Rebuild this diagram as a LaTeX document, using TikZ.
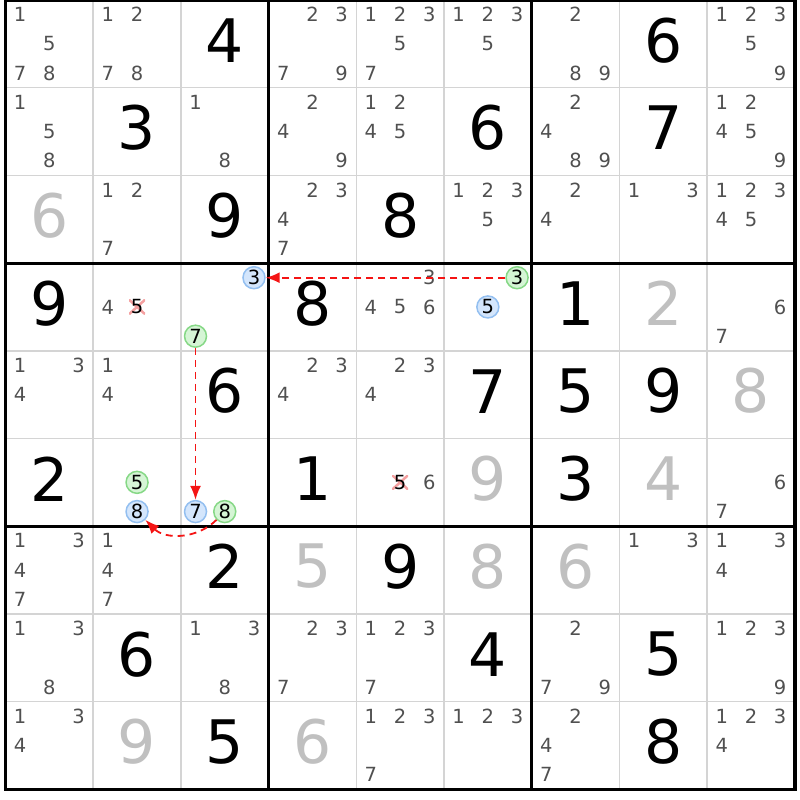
\documentclass[tikz,border=0pt]{standalone}
\usepackage{fontspec}
\setmainfont{DejaVu Sans}
\usetikzlibrary{arrows.meta, calc}
\definecolor{G}{HTML}{D4D4D4}
\definecolor{C}{HTML}{505050}
\definecolor{S}{HTML}{C0C0C0}
\definecolor{B}{HTML}{93BFF0}
\definecolor{BF}{HTML}{D4E6FC}
\definecolor{V}{HTML}{86D886}
\definecolor{VF}{HTML}{D5F5D5}
\definecolor{R}{HTML}{F41414}
\definecolor{X}{HTML}{F4A0A0}

\newcommand\cellsize{87.7}
% candidate #3 of the cell in row #1, column #2
\newcommand\candat[4]{%
  \pgfmathsetmacro\cx{5.5+(#2-1)*\cellsize+(mod(#3-1,3)+0.5)*\cellsize/3}
  \pgfmathsetmacro\cy{800-(#1-1)*\cellsize-(floor((#3-1)/3)+0.5)*\cellsize/3}
  \node[#4] (k#1#2#3) at (\cx,\cy) {#3};}

\begin{document}
\begin{tikzpicture}[x=1pt, y=1pt, >={Latex[length=14pt,width=11pt]},
    cand/.style = {inner sep=0pt, text=C,
      font=\fontsize{19.5}{19.5}\selectfont},
    given/.style = {inner sep=0pt, text=black,
      font=\fontsize{60}{60}\selectfont},
    solved/.style = {given, text=S},
    blue mark/.style = {cand, text=black, circle, draw=B, fill=BF,
      line width=1.5pt, minimum size=22pt},
    green mark/.style = {blue mark, draw=V, fill=VF},
    crossed/.style = {cand, text=black, minimum width=16pt,
      minimum height=14pt, path picture={
        \draw[X, line width=2.5pt]
        (path picture bounding box.south west) --
        (path picture bounding box.north east)
        (path picture bounding box.north west) --
        (path picture bounding box.south east);}},
    implies/.style = {->, draw=R, line width=1.8pt,
      dash pattern=on 7pt off 5pt}]
  \useasboundingbox (0,0) rectangle (800,800);

  % grid
  \foreach \i in {1,2,4,5,7,8} {
    \draw[G, line width=1.5pt] ({5.5+\i*\cellsize},800) -- ++(0,-789.3);
    \draw[G, line width=1.5pt] (5.5,{800-\i*\cellsize}) -- ++(789.3,0);
  }
  \foreach \i in {3,6} {
    \draw[line width=3pt] ({5.5+\i*\cellsize},800) -- ++(0,-789.3);
    \draw[line width=3pt] (5.5,{800-\i*\cellsize}) -- ++(789.3,0);
  }
  \draw[line width=3.5pt] (5.5,10.7) rectangle (794.8,800);

  % givens and solved cells
  \foreach \r/\c/\d in {1/3/4, 1/8/6, 2/2/3, 2/6/6, 2/8/7, 3/3/9, 3/5/8,
      4/1/9, 4/4/8, 4/7/1, 5/3/6, 5/6/7, 5/7/5, 5/8/9, 6/1/2, 6/4/1,
      6/7/3, 7/3/2, 7/5/9, 8/2/6, 8/6/4, 8/8/5, 9/3/5, 9/8/8}
    \node[given] (g\r\c) at ({5.5+(\c-0.5)*\cellsize},
      {803.5-(\r-0.5)*\cellsize}) {\d};
  \foreach \r/\c/\d in {3/1/6, 4/8/2, 5/9/8, 6/6/9, 6/8/4, 7/4/5, 7/6/8,
      7/7/6, 9/2/9, 9/4/6}
    \node[solved] (g\r\c) at ({5.5+(\c-0.5)*\cellsize},
      {803.5-(\r-0.5)*\cellsize}) {\d};

  % candidates
  \foreach \r/\c/\l in {1/1/{1,5,7,8}, 1/2/{1,2,7,8}, 1/4/{2,3,7,9},
      1/5/{1,2,3,5,7}, 1/6/{1,2,3,5}, 1/7/{2,8,9}, 1/9/{1,2,3,5,9},
      2/1/{1,5,8}, 2/3/{1,8}, 2/4/{2,4,9}, 2/5/{1,2,4,5}, 2/7/{2,4,8,9},
      2/9/{1,2,4,5,9}, 3/2/{1,2,7}, 3/4/{2,3,4,7}, 3/6/{1,2,3,5},
      3/7/{2,4}, 3/8/{1,3}, 3/9/{1,2,3,4,5}, 4/2/{4}, 4/5/{3,4,5,6},
      4/9/{6,7}, 5/1/{1,3,4}, 5/2/{1,4}, 5/4/{2,3,4}, 5/5/{2,3,4},
      6/5/{6}, 6/9/{6,7}, 7/1/{1,3,4,7}, 7/2/{1,4,7}, 7/8/{1,3},
      7/9/{1,3,4}, 8/1/{1,3,8}, 8/3/{1,3,8}, 8/4/{2,3,7},
      8/5/{1,2,3,7}, 8/7/{2,7,9}, 8/9/{1,2,3,9}, 9/1/{1,3,4},
      9/5/{1,2,3,7}, 9/6/{1,2,3}, 9/7/{2,4,7}, 9/9/{1,2,3,4}}
    \foreach \d in \l
      \candat{\r}{\c}{\d}{cand};

  % eliminated and linked candidates
  \candat{4}{2}{5}{crossed}
  \candat{6}{5}{5}{crossed}
  \candat{4}{3}{3}{blue mark}
  \candat{4}{3}{7}{green mark}
  \candat{4}{6}{3}{green mark}
  \candat{4}{6}{5}{blue mark}
  \candat{6}{2}{5}{green mark}
  \candat{6}{2}{8}{blue mark}
  \candat{6}{3}{7}{blue mark}
  \candat{6}{3}{8}{green mark}

  \draw[implies] (k463) -- (k433);
  \draw[implies] (k437) -- (k637);
  \draw[implies] (k638) to[bend left=45] (k628);
\end{tikzpicture}
\end{document}
